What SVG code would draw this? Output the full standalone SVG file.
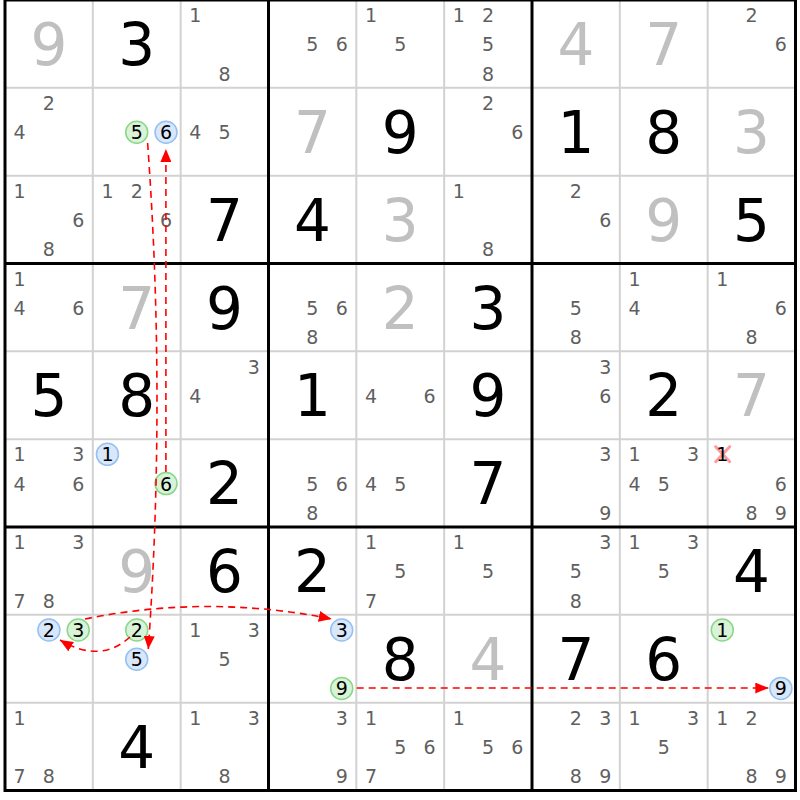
<svg xmlns="http://www.w3.org/2000/svg" width="800" height="800" viewBox="0 0 800 800">
<defs>
<style>
text{font-family:"DejaVu Sans","Liberation Sans",sans-serif;text-anchor:middle}
.c{font-size:19px;fill:#5f5f5f}
.k{font-size:19px;fill:#000}
.g{font-size:58px;fill:#000}
.s{font-size:58px;fill:#c0c0c0}
.gc{fill:#d8f3d8;stroke:#88d888;stroke-width:1.5}
.bc{fill:#d8e7fa;stroke:#94c0f2;stroke-width:1.5}
.thin{stroke:#d2d2d2;stroke-width:2}
.thick{stroke:#000;stroke-width:3;fill:none}
.arr{fill:none;stroke:#f00;stroke-width:1.6;stroke-dasharray:7 5;marker-end:url(#ah)}
</style>
<marker id="ah" markerUnits="userSpaceOnUse" markerWidth="13" markerHeight="11" refX="13" refY="5.5" orient="auto"><path d="M0,0 L13,5.5 L0,11 z" fill="#f00"/></marker>
</defs>
<rect width="800" height="800" fill="#fff"/>
<g id="grid">
<path class="thin" d="M92.83,0V790.5M180.67,0V790.5M356.33,0V790.5M444.17,0V790.5M619.83,0V790.5M707.67,0V790.5M5,87.83H795.5M5,175.67H795.5M5,351.33H795.5M5,439.17H795.5M5,614.83H795.5M5,702.67H795.5"/>
<path class="thick" d="M268.5,0V790.5M532,0V790.5M5,263.5H795.5M5,527H795.5"/>
<rect class="thick" x="5" y="0" width="790.5" height="790.5"/>
</g>
<g id="cells">
<!-- row 1 -->
<g id="r1c1" transform="translate(5,0)"><text class="s" x="43.9" y="65">9</text></g>
<g id="r1c2" transform="translate(92.83,0)"><text class="g" x="43.9" y="65">3</text></g>
<g id="r1c3" transform="translate(180.67,0)"><text class="c" x="14.6" y="22.3">1</text><text class="c" x="43.9" y="80.5">8</text></g>
<g id="r1c4" transform="translate(268.5,0)"><text class="c" x="43.9" y="51.4">5</text><text class="c" x="73.2" y="51.4">6</text></g>
<g id="r1c5" transform="translate(356.33,0)"><text class="c" x="14.6" y="22.3">1</text><text class="c" x="43.9" y="51.4">5</text></g>
<g id="r1c6" transform="translate(444.17,0)"><text class="c" x="14.6" y="22.3">1</text><text class="c" x="43.9" y="22.3">2</text><text class="c" x="43.9" y="51.4">5</text><text class="c" x="43.9" y="80.5">8</text></g>
<g id="r1c7" transform="translate(532,0)"><text class="s" x="43.9" y="65">4</text></g>
<g id="r1c8" transform="translate(619.83,0)"><text class="s" x="43.9" y="65">7</text></g>
<g id="r1c9" transform="translate(707.67,0)"><text class="c" x="43.9" y="22.3">2</text><text class="c" x="73.2" y="51.4">6</text></g>
<!-- row 2 -->
<g id="r2c1" transform="translate(5,87.83)"><text class="c" x="43.9" y="22.3">2</text><text class="c" x="14.6" y="51.4">4</text></g>
<g id="r2c2" transform="translate(92.83,87.83)"><circle class="gc" cx="43.9" cy="44.4" r="11"/><text class="k" x="43.9" y="51.4">5</text><circle class="bc" cx="73.2" cy="44.4" r="11"/><text class="k" x="73.2" y="51.4">6</text></g>
<g id="r2c3" transform="translate(180.67,87.83)"><text class="c" x="14.6" y="51.4">4</text><text class="c" x="43.9" y="51.4">5</text></g>
<g id="r2c4" transform="translate(268.5,87.83)"><text class="s" x="43.9" y="65">7</text></g>
<g id="r2c5" transform="translate(356.33,87.83)"><text class="g" x="43.9" y="65">9</text></g>
<g id="r2c6" transform="translate(444.17,87.83)"><text class="c" x="43.9" y="22.3">2</text><text class="c" x="73.2" y="51.4">6</text></g>
<g id="r2c7" transform="translate(532,87.83)"><text class="g" x="43.9" y="65">1</text></g>
<g id="r2c8" transform="translate(619.83,87.83)"><text class="g" x="43.9" y="65">8</text></g>
<g id="r2c9" transform="translate(707.67,87.83)"><text class="s" x="43.9" y="65">3</text></g>
<!-- row 3 -->
<g id="r3c1" transform="translate(5,175.67)"><text class="c" x="14.6" y="22.3">1</text><text class="c" x="73.2" y="51.4">6</text><text class="c" x="43.9" y="80.5">8</text></g>
<g id="r3c2" transform="translate(92.83,175.67)"><text class="c" x="14.6" y="22.3">1</text><text class="c" x="43.9" y="22.3">2</text><text class="c" x="73.2" y="51.4">6</text></g>
<g id="r3c3" transform="translate(180.67,175.67)"><text class="g" x="43.9" y="65">7</text></g>
<g id="r3c4" transform="translate(268.5,175.67)"><text class="g" x="43.9" y="65">4</text></g>
<g id="r3c5" transform="translate(356.33,175.67)"><text class="s" x="43.9" y="65">3</text></g>
<g id="r3c6" transform="translate(444.17,175.67)"><text class="c" x="14.6" y="22.3">1</text><text class="c" x="43.9" y="80.5">8</text></g>
<g id="r3c7" transform="translate(532,175.67)"><text class="c" x="43.9" y="22.3">2</text><text class="c" x="73.2" y="51.4">6</text></g>
<g id="r3c8" transform="translate(619.83,175.67)"><text class="s" x="43.9" y="65">9</text></g>
<g id="r3c9" transform="translate(707.67,175.67)"><text class="g" x="43.9" y="65">5</text></g>
<!-- row 4 -->
<g id="r4c1" transform="translate(5,263.5)"><text class="c" x="14.6" y="22.3">1</text><text class="c" x="14.6" y="51.4">4</text><text class="c" x="73.2" y="51.4">6</text></g>
<g id="r4c2" transform="translate(92.83,263.5)"><text class="s" x="43.9" y="65">7</text></g>
<g id="r4c3" transform="translate(180.67,263.5)"><text class="g" x="43.9" y="65">9</text></g>
<g id="r4c4" transform="translate(268.5,263.5)"><text class="c" x="43.9" y="51.4">5</text><text class="c" x="73.2" y="51.4">6</text><text class="c" x="43.9" y="80.5">8</text></g>
<g id="r4c5" transform="translate(356.33,263.5)"><text class="s" x="43.9" y="65">2</text></g>
<g id="r4c6" transform="translate(444.17,263.5)"><text class="g" x="43.9" y="65">3</text></g>
<g id="r4c7" transform="translate(532,263.5)"><text class="c" x="43.9" y="51.4">5</text><text class="c" x="43.9" y="80.5">8</text></g>
<g id="r4c8" transform="translate(619.83,263.5)"><text class="c" x="14.6" y="22.3">1</text><text class="c" x="14.6" y="51.4">4</text></g>
<g id="r4c9" transform="translate(707.67,263.5)"><text class="c" x="14.6" y="22.3">1</text><text class="c" x="73.2" y="51.4">6</text><text class="c" x="43.9" y="80.5">8</text></g>
<!-- row 5 -->
<g id="r5c1" transform="translate(5,351.33)"><text class="g" x="43.9" y="65">5</text></g>
<g id="r5c2" transform="translate(92.83,351.33)"><text class="g" x="43.9" y="65">8</text></g>
<g id="r5c3" transform="translate(180.67,351.33)"><text class="c" x="73.2" y="22.3">3</text><text class="c" x="14.6" y="51.4">4</text></g>
<g id="r5c4" transform="translate(268.5,351.33)"><text class="g" x="43.9" y="65">1</text></g>
<g id="r5c5" transform="translate(356.33,351.33)"><text class="c" x="14.6" y="51.4">4</text><text class="c" x="73.2" y="51.4">6</text></g>
<g id="r5c6" transform="translate(444.17,351.33)"><text class="g" x="43.9" y="65">9</text></g>
<g id="r5c7" transform="translate(532,351.33)"><text class="c" x="73.2" y="22.3">3</text><text class="c" x="73.2" y="51.4">6</text></g>
<g id="r5c8" transform="translate(619.83,351.33)"><text class="g" x="43.9" y="65">2</text></g>
<g id="r5c9" transform="translate(707.67,351.33)"><text class="s" x="43.9" y="65">7</text></g>
<!-- row 6 -->
<g id="r6c1" transform="translate(5,439.17)"><text class="c" x="14.6" y="22.3">1</text><text class="c" x="73.2" y="22.3">3</text><text class="c" x="14.6" y="51.4">4</text><text class="c" x="73.2" y="51.4">6</text></g>
<g id="r6c2" transform="translate(92.83,439.17)"><circle class="bc" cx="14.6" cy="15.2" r="11"/><text class="k" x="14.6" y="22.3">1</text><circle class="gc" cx="73.2" cy="44.4" r="11"/><text class="k" x="73.2" y="51.4">6</text></g>
<g id="r6c3" transform="translate(180.67,439.17)"><text class="g" x="43.9" y="65">2</text></g>
<g id="r6c4" transform="translate(268.5,439.17)"><text class="c" x="43.9" y="51.4">5</text><text class="c" x="73.2" y="51.4">6</text><text class="c" x="43.9" y="80.5">8</text></g>
<g id="r6c5" transform="translate(356.33,439.17)"><text class="c" x="14.6" y="51.4">4</text><text class="c" x="43.9" y="51.4">5</text></g>
<g id="r6c6" transform="translate(444.17,439.17)"><text class="g" x="43.9" y="65">7</text></g>
<g id="r6c7" transform="translate(532,439.17)"><text class="c" x="73.2" y="22.3">3</text><text class="c" x="73.2" y="80.5">9</text></g>
<g id="r6c8" transform="translate(619.83,439.17)"><text class="c" x="14.6" y="22.3">1</text><text class="c" x="73.2" y="22.3">3</text><text class="c" x="14.6" y="51.4">4</text><text class="c" x="43.9" y="51.4">5</text></g>
<g id="r6c9" transform="translate(707.67,439.17)"><path d="M8,7.5L22,22.5M8,22.5L22,7.5" stroke="#ff8a8a" stroke-width="3" stroke-linecap="round" opacity="0.85"/><text class="k" x="14.6" y="22.3">1</text><text class="c" x="73.2" y="51.4">6</text><text class="c" x="43.9" y="80.5">8</text><text class="c" x="73.2" y="80.5">9</text></g>
<!-- row 7 -->
<g id="r7c1" transform="translate(5,527)"><text class="c" x="14.6" y="22.3">1</text><text class="c" x="73.2" y="22.3">3</text><text class="c" x="14.6" y="80.5">7</text><text class="c" x="43.9" y="80.5">8</text></g>
<g id="r7c2" transform="translate(92.83,527)"><text class="s" x="43.9" y="65">9</text></g>
<g id="r7c3" transform="translate(180.67,527)"><text class="g" x="43.9" y="65">6</text></g>
<g id="r7c4" transform="translate(268.5,527)"><text class="g" x="43.9" y="65">2</text></g>
<g id="r7c5" transform="translate(356.33,527)"><text class="c" x="14.6" y="22.3">1</text><text class="c" x="43.9" y="51.4">5</text><text class="c" x="14.6" y="80.5">7</text></g>
<g id="r7c6" transform="translate(444.17,527)"><text class="c" x="14.6" y="22.3">1</text><text class="c" x="43.9" y="51.4">5</text></g>
<g id="r7c7" transform="translate(532,527)"><text class="c" x="73.2" y="22.3">3</text><text class="c" x="43.9" y="51.4">5</text><text class="c" x="43.9" y="80.5">8</text></g>
<g id="r7c8" transform="translate(619.83,527)"><text class="c" x="14.6" y="22.3">1</text><text class="c" x="73.2" y="22.3">3</text><text class="c" x="43.9" y="51.4">5</text></g>
<g id="r7c9" transform="translate(707.67,527)"><text class="g" x="43.9" y="65">4</text></g>
<!-- row 8 -->
<g id="r8c1" transform="translate(5,614.83)"><circle class="bc" cx="43.9" cy="15.2" r="11"/><text class="k" x="43.9" y="22.3">2</text><circle class="gc" cx="73.2" cy="15.2" r="11"/><text class="k" x="73.2" y="22.3">3</text></g>
<g id="r8c2" transform="translate(92.83,614.83)"><circle class="gc" cx="43.9" cy="15.2" r="11"/><text class="k" x="43.9" y="22.3">2</text><circle class="bc" cx="43.9" cy="44.4" r="11"/><text class="k" x="43.9" y="51.4">5</text></g>
<g id="r8c3" transform="translate(180.67,614.83)"><text class="c" x="14.6" y="22.3">1</text><text class="c" x="73.2" y="22.3">3</text><text class="c" x="43.9" y="51.4">5</text></g>
<g id="r8c4" transform="translate(268.5,614.83)"><circle class="bc" cx="73.2" cy="15.2" r="11"/><text class="k" x="73.2" y="22.3">3</text><circle class="gc" cx="73.2" cy="73.6" r="11"/><text class="k" x="73.2" y="80.5">9</text></g>
<g id="r8c5" transform="translate(356.33,614.83)"><text class="g" x="43.9" y="65">8</text></g>
<g id="r8c6" transform="translate(444.17,614.83)"><text class="s" x="43.9" y="65">4</text></g>
<g id="r8c7" transform="translate(532,614.83)"><text class="g" x="43.9" y="65">7</text></g>
<g id="r8c8" transform="translate(619.83,614.83)"><text class="g" x="43.9" y="65">6</text></g>
<g id="r8c9" transform="translate(707.67,614.83)"><circle class="gc" cx="14.6" cy="15.2" r="11"/><text class="k" x="14.6" y="22.3">1</text><circle class="bc" cx="73.2" cy="73.6" r="11"/><text class="k" x="73.2" y="80.5">9</text></g>
<!-- row 9 -->
<g id="r9c1" transform="translate(5,702.67)"><text class="c" x="14.6" y="22.3">1</text><text class="c" x="14.6" y="80.5">7</text><text class="c" x="43.9" y="80.5">8</text></g>
<g id="r9c2" transform="translate(92.83,702.67)"><text class="g" x="43.9" y="65">4</text></g>
<g id="r9c3" transform="translate(180.67,702.67)"><text class="c" x="14.6" y="22.3">1</text><text class="c" x="73.2" y="22.3">3</text><text class="c" x="43.9" y="80.5">8</text></g>
<g id="r9c4" transform="translate(268.5,702.67)"><text class="c" x="73.2" y="22.3">3</text><text class="c" x="73.2" y="80.5">9</text></g>
<g id="r9c5" transform="translate(356.33,702.67)"><text class="c" x="14.6" y="22.3">1</text><text class="c" x="43.9" y="51.4">5</text><text class="c" x="73.2" y="51.4">6</text><text class="c" x="14.6" y="80.5">7</text></g>
<g id="r9c6" transform="translate(444.17,702.67)"><text class="c" x="14.6" y="22.3">1</text><text class="c" x="43.9" y="51.4">5</text><text class="c" x="73.2" y="51.4">6</text></g>
<g id="r9c7" transform="translate(532,702.67)"><text class="c" x="43.9" y="22.3">2</text><text class="c" x="73.2" y="22.3">3</text><text class="c" x="43.9" y="80.5">8</text><text class="c" x="73.2" y="80.5">9</text></g>
<g id="r9c8" transform="translate(619.83,702.67)"><text class="c" x="14.6" y="22.3">1</text><text class="c" x="73.2" y="22.3">3</text><text class="c" x="43.9" y="51.4">5</text></g>
<g id="r9c9" transform="translate(707.67,702.67)"><text class="c" x="14.6" y="22.3">1</text><text class="c" x="43.9" y="22.3">2</text><text class="c" x="43.9" y="80.5">8</text><text class="c" x="73.2" y="80.5">9</text></g>
</g>
<g id="connectors">
<path class="arr" d="M165.9,472 L165.9,149"/>
<path class="arr" d="M147.6,143 Q166,396 148.3,649"/>
<path class="arr" d="M130,637 Q100,664 60,640"/>
<path class="arr" d="M85,619 Q208,594 331.7,619"/>
<path class="arr" d="M356.7,688 L768.3,688"/>
</g>
</svg>
